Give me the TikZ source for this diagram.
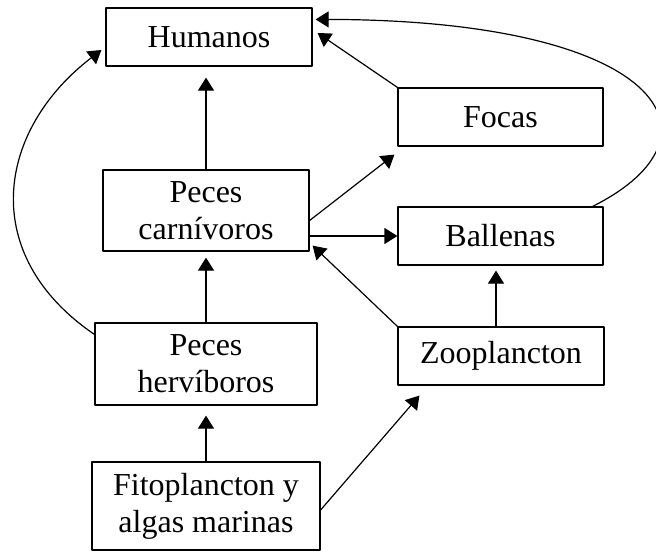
\documentclass[tikz,border=0pt]{standalone}
\usepackage{fontspec}
\setmainfont{Liberation Serif}
\usetikzlibrary{arrows.meta, calc}

\begin{document}
\begin{tikzpicture}[line cap=round,line join=round,x=0.5pt,y=0.5pt,
    box/.style={draw, line width=0.6pt, inner sep=0pt, align=center,
        minimum width=103pt, minimum height=29pt, font=\fontsize{16}{18.5}\selectfont},
    arr/.style={line width=0.6pt, -{Triangle[length=6.5pt,width=8pt]}}]

    \useasboundingbox (0,0) rectangle (656,-551);

    % boxes
    \draw (209,-37) node[box] (hum) {Humanos};
    \draw (500.5,-117) node[box, minimum width=102.5pt] (focas) {Focas};
    \draw (206,-210.5) node[box, minimum height=40.5pt] (carn) {Peces\\carnívoros};
    \draw (500.5,-236) node[box, minimum width=102.5pt] (bal) {Ballenas};
    \draw (501,-356) node[box] (zoo) {Zooplancton};
    \draw (206,-364) node[box, minimum width=111pt, minimum height=41pt] (herv) {Peces\\hervíboros};
    \draw (206,-506) node[box, minimum width=114pt, minimum height=44pt] (fito) {Fitoplancton y\\algas marinas};

    % straight arrows
    \draw[arr, shorten >=5.5pt] (carn.north) -- (carn.north |- hum.south);
    \draw[arr, shorten >=3pt] (herv.north) -- (herv.north |- carn.south);
    \draw[arr, shorten >=5pt] (fito.north) -- (fito.north |- herv.south);
    \draw[arr] ([yshift=-2pt]fito.east) -- ($(zoo.south west)+(22,-10)$);
    \draw[arr] (zoo.north west) -- ($(carn.south east)+(3,6)$);
    \draw[arr] ([yshift=-5pt]carn.east) -- ($(focas.south west)+(-3,-8)$);
    \draw[arr] (carn.east |- bal.west) -- (bal.west);
    \draw[arr, shorten >=2.5pt] ([xshift=-2.5pt]zoo.north) -- ([xshift=-2.5pt]zoo.north |- bal.south);
    \draw[arr] (focas.north west) -- ($(hum.east)+(5,4)$);

    % curved arrows
    \draw[arr] ($(bal.north east)+(-11,0)$) .. controls (735,-135) and (660,-20) .. ($(hum.north east)+(3,-12)$);
    \draw[arr] ($(herv.north west)+(0,-12)$) .. controls (-22,-255) and (-4,-131) .. ($(hum.west)+(-4,-13)$);

\end{tikzpicture}
\end{document}
